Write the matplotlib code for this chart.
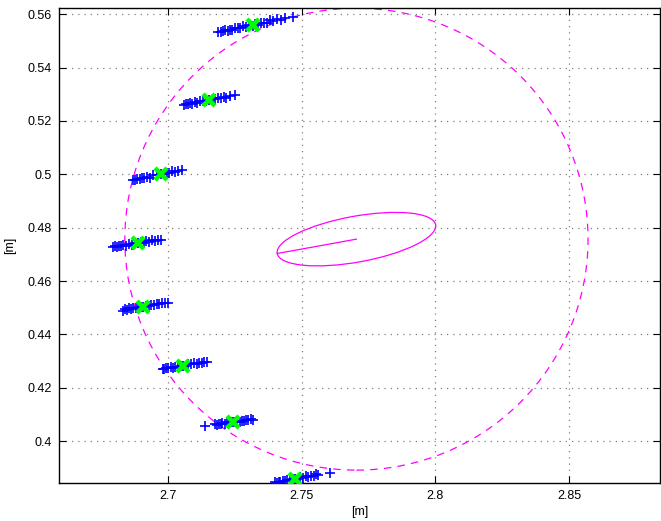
import matplotlib
matplotlib.use("Agg")
import matplotlib.pyplot as plt
from matplotlib.patches import Circle, Ellipse
import numpy as np

plt.rcParams['font.family'] = ['Liberation Sans', 'DejaVu Sans']

# measured positions (blue +), one list per cluster
x1 = [2.7187, 2.7197, 2.7205, 2.7214, 2.7223, 2.7232, 2.7241, 2.7251, 2.7261, 2.7271, 2.7282, 2.7293, 2.7305,
      2.7317, 2.7327, 2.7338, 2.7349, 2.7360, 2.7371, 2.7382, 2.7394, 2.7407, 2.7422, 2.7438, 2.7466]
y1 = [0.5535, 0.5532, 0.5537, 0.5541, 0.5538, 0.5543, 0.5541, 0.5548, 0.5548, 0.5548, 0.5556, 0.5554, 0.5559,
      0.5558, 0.5563, 0.5561, 0.5569, 0.5569, 0.5569, 0.5577, 0.5575, 0.5581, 0.5580, 0.5585, 0.5590]
x2 = [2.7060, 2.7068, 2.7075, 2.7083, 2.7091, 2.7100, 2.7109, 2.7119, 2.7130, 2.7142, 2.7155, 2.7167, 2.7178,
      2.7188, 2.7198, 2.7208, 2.7219, 2.7232, 2.7251]
y2 = [0.5259, 0.5265, 0.5263, 0.5269, 0.5264, 0.5270, 0.5268, 0.5274, 0.5274, 0.5275, 0.5279, 0.5283, 0.5282,
      0.5288, 0.5285, 0.5290, 0.5288, 0.5295, 0.5299]
x3 = [2.6870, 2.6878, 2.6886, 2.6894, 2.6903, 2.6912, 2.6922, 2.6933, 2.6945, 2.6959, 2.6975, 2.6986, 2.6996,
      2.7006, 2.7016, 2.7027, 2.7038, 2.7051]
y3 = [0.4979, 0.4978, 0.4983, 0.4982, 0.4988, 0.4985, 0.4990, 0.4988, 0.4996, 0.4997, 0.5000, 0.5000, 0.5006,
      0.5006, 0.5012, 0.5009, 0.5014, 0.5017]
x4 = [2.6793, 2.6801, 2.6809, 2.6817, 2.6825, 2.6834, 2.6843, 2.6853, 2.6864, 2.6876, 2.6889, 2.6899, 2.6909,
      2.6919, 2.6929, 2.6939, 2.6950, 2.6962, 2.6976]
y4 = [0.4727, 0.4730, 0.4727, 0.4732, 0.4731, 0.4736, 0.4733, 0.4737, 0.4735, 0.4742, 0.4742, 0.4745, 0.4743,
      0.4750, 0.4747, 0.4752, 0.4750, 0.4755, 0.4754]
x5 = [2.6833, 2.6840, 2.6847, 2.6854, 2.6862, 2.6870, 2.6879, 2.6889, 2.6899, 2.6908, 2.6918, 2.6928, 2.6938,
      2.6948, 2.6958, 2.6968, 2.6979, 2.6990, 2.7001]
y5 = [0.4489, 0.4494, 0.4493, 0.4497, 0.4494, 0.4499, 0.4497, 0.4503, 0.4501, 0.4504, 0.4508, 0.4506, 0.4511,
      0.4509, 0.4514, 0.4512, 0.4518, 0.4517, 0.4517]
x6 = [2.6980, 2.6987, 2.6994, 2.7002, 2.7010, 2.7019, 2.7028, 2.7038, 2.7048, 2.7057, 2.7067, 2.7077, 2.7087,
      2.7097, 2.7107, 2.7117, 2.7127, 2.7136, 2.7145]
y6 = [0.4271, 0.4269, 0.4274, 0.4273, 0.4277, 0.4275, 0.4279, 0.4278, 0.4283, 0.4283, 0.4283, 0.4288, 0.4287,
      0.4292, 0.4290, 0.4294, 0.4293, 0.4298, 0.4297]
x7 = [2.7138, 2.7176, 2.7183, 2.7190, 2.7197, 2.7204, 2.7212, 2.7220, 2.7228, 2.7236, 2.7244, 2.7252, 2.7260,
      2.7268, 2.7276, 2.7284, 2.7292, 2.7300, 2.7309, 2.7319]
y7 = [0.4055, 0.4063, 0.4060, 0.4064, 0.4063, 0.4067, 0.4065, 0.4070, 0.4068, 0.4071, 0.4071, 0.4070, 0.4075,
      0.4073, 0.4077, 0.4075, 0.4079, 0.4078, 0.4082, 0.4080]
x8 = [2.7400, 2.7407, 2.7414, 2.7421, 2.7429, 2.7437, 2.7446, 2.7456, 2.7466, 2.7475, 2.7485, 2.7495, 2.7505,
      2.7515, 2.7525, 2.7535, 2.7545, 2.7555, 2.7562, 2.7606]
y8 = [0.3845, 0.3844, 0.3848, 0.3846, 0.3850, 0.3849, 0.3854, 0.3853, 0.3858, 0.3858, 0.3858, 0.3864, 0.3863,
      0.3868, 0.3866, 0.3870, 0.3869, 0.3875, 0.3874, 0.3880]

# cluster means (green x)
mean_x = [2.7317, 2.7155, 2.6975, 2.6889, 2.6908, 2.7057, 2.7244, 2.7475]
mean_y = [0.5560, 0.5279, 0.5000, 0.4742, 0.4504, 0.4283, 0.4071, 0.3858]

# fitted circle and error ellipse
circ_c = (2.7705, 0.4757)
circ_r = 0.0866
ell_a = 0.0301
ell_b = 0.0086
ell_ang = 10.3  # deg

fig = plt.figure(figsize=(6.61, 5.21), dpi=100)
ax = fig.add_axes([0.0893, 0.0729, 0.9092, 0.9127])

clusters = [(x1, y1), (x2, y2), (x3, y3), (x4, y4), (x5, y5), (x6, y6), (x7, y7), (x8, y8)]
for cx, cy in clusters:
    ax.plot(cx, cy, '+', color='#0000ff', ms=7.5, mew=1.2, zorder=3)

ax.plot(mean_x, mean_y, 'x', color='#00ff00', ms=8, mew=3.2, ls='none', zorder=4)

ax.add_patch(Circle(circ_c, circ_r, fill=False, ec='#ff00ff', lw=0.9,
                    ls=(0, (6, 5)), zorder=2))
ax.add_patch(Ellipse(circ_c, 2 * ell_a, 2 * ell_b, angle=ell_ang, fill=False,
                     ec='#ff00ff', lw=0.9, zorder=2))
t = np.deg2rad(ell_ang)
ax.plot([circ_c[0], circ_c[0] - ell_a * np.cos(t)], [circ_c[1], circ_c[1] - ell_a * np.sin(t)],
        color='#ff00ff', lw=0.9, zorder=2)

ax.set_xlim(2.6593, 2.884)
ax.set_ylim(0.38426, 0.56255)

ax.set_xticks([2.7, 2.75, 2.8, 2.85])
ax.set_xticklabels(['2.7', '2.75', '2.8', '2.85'])
yt = [0.4, 0.42, 0.44, 0.46, 0.48, 0.5, 0.52, 0.54, 0.56]
ax.set_yticks(yt)
ax.set_yticklabels(['0.4', '0.42', '0.44', '0.46', '0.48', '0.5', '0.52', '0.54', '0.56'])

ax.tick_params(direction='in', top=True, right=True, length=5, width=0.8, labelsize=9, pad=5)
ax.grid(True, ls=(0, (1, 4)), color='0.5', lw=0.9)
for s in ax.spines.values():
    s.set_linewidth(1.0)

ax.set_xlabel('[m]', fontsize=9, labelpad=3)
ax.set_ylabel('[m]', fontsize=9, labelpad=8)

fig.savefig('out.png', dpi=100)
